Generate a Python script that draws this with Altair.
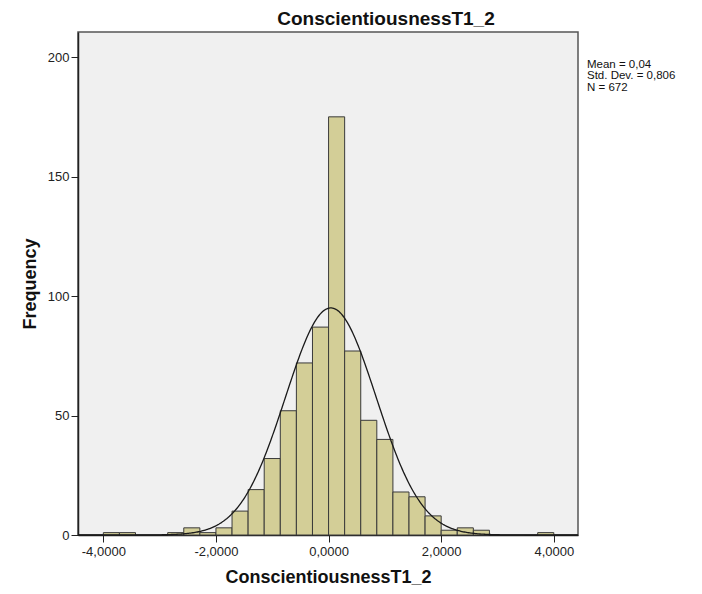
import altair as alt
import pandas as pd

# ---- data ----
bin_left = [-4.0000, -3.7143, -2.8571, -2.5714, -2.2857, -2.0000, -1.7143, -1.4286,
            -1.1429, -0.8571, -0.5714, -0.2857, 0.0000, 0.2857, 0.5714, 0.8571,
            1.1429, 1.4286, 1.7143, 2.0000, 2.2857, 2.5714, 3.7143]
counts = [1, 1, 1, 3, 1, 3, 10, 19, 32, 52, 72, 87, 175, 77, 48, 40, 18, 16, 8, 2, 3, 2, 1]
bin_width = 0.2857
mean_val = 0.04
sd_val = 0.806
n_val = 672
x_ticks = [-4, -2, 0, 2, 4]
y_ticks = [0, 50, 100, 150, 200]
title_text = "ConscientiousnessT1_2"
x_title = "ConscientiousnessT1_2"
y_title = "Frequency"
stats_lines = ["Mean = 0,04", "Std. Dev. = 0,806", "N = 672"]

bars_df = pd.DataFrame({
    "start": bin_left,
    "end": [b + bin_width for b in bin_left],
    "count": counts,
})

FONT = "Liberation Sans"
xscale = alt.Scale(domain=[-4.45, 4.43], nice=False, zero=False)
yscale = alt.Scale(domain=[0, 210.5], nice=False)

label_expr = "(datum.value < 0 ? '-' : '') + replace(format(abs(datum.value), '.4f'), '.', ',')"

bars = alt.Chart(bars_df).mark_bar(
    fill="#d3ce97", stroke="#3a3a3a", strokeWidth=1
).encode(
    x=alt.X("start:Q", scale=xscale,
            axis=alt.Axis(values=x_ticks, labelExpr=label_expr, title=x_title,
                          tickSize=7, labelPadding=3, titlePadding=10)),
    x2="end:Q",
    y=alt.Y("count:Q", scale=yscale,
            axis=alt.Axis(values=y_ticks, title=y_title, tickSize=7,
                          labelPadding=2, titlePadding=8)),
    y2=alt.datum(0),
)

curve = alt.Chart(alt.sequence(-4.45, 4.431, 0.02, as_="x")).transform_calculate(
    y=f"{n_val} * {bin_width} * exp(-0.5 * pow((datum.x - {mean_val}) / {sd_val}, 2)) / ({sd_val} * sqrt(2 * PI))"
).mark_line(color="#1a1a1a", strokeWidth=1.3).encode(
    x=alt.X("x:Q", scale=xscale),
    y=alt.Y("y:Q", scale=yscale),
)

one = pd.DataFrame({"k": [0]})
title_mark = alt.Chart(one).mark_text(
    font=FONT, fontSize=19, fontWeight="bold", color="#111", align="center", baseline="top"
).encode(x=alt.value(308), y=alt.value(-22), text=alt.value(title_text))

stat_layers = []
for i, line in enumerate(stats_lines):
    stat_layers.append(
        alt.Chart(one).mark_text(
            font=FONT, fontSize=11.5, color="#111", align="left", baseline="alphabetic"
        ).encode(x=alt.value(509), y=alt.value(35.5 + 11.5 * i), text=alt.value(line))
    )

chart = alt.layer(bars, curve, title_mark, *stat_layers).properties(
    width=500, height=503,
    autosize=alt.AutoSizeParams(type="none"),
    padding={"left": 70, "top": 24, "right": 116, "bottom": 50},
    background="white",
).configure_view(
    fill="#f0f0f0", stroke="#555555", strokeWidth=1.5
).configure_axis(
    grid=False, domainColor="#222222", tickColor="#222222", domainWidth=1.5,
    labelFont=FONT, labelFontSize=13, labelColor="#222222",
    titleFont=FONT, titleFontSize=18, titleFontWeight="bold", titleColor="#111111",
)

chart.save("out.html", embed_options={"renderer": "svg", "actions": False})
